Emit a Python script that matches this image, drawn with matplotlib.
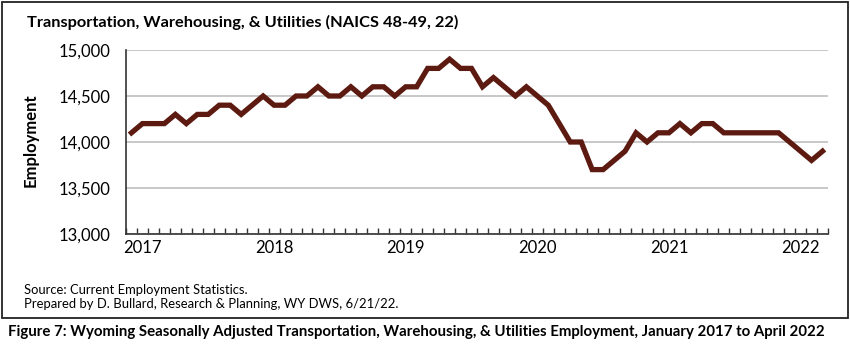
import matplotlib
matplotlib.use('Agg')
import matplotlib.pyplot as plt
from matplotlib.patches import Rectangle

# monthly employment, Jan 2017 - Apr 2022
employment = [
    14100, 14200, 14200, 14200, 14300, 14200, 14300, 14300, 14400, 14400, 14300, 14400,  # 2017
    14500, 14400, 14400, 14500, 14500, 14600, 14500, 14500, 14600, 14500, 14600, 14600,  # 2018
    14500, 14600, 14600, 14800, 14800, 14900, 14800, 14800, 14600, 14700, 14600, 14500,  # 2019
    14600, 14500, 14400, 14200, 14000, 14000, 13700, 13700, 13800, 13900, 14100, 14000,  # 2020
    14100, 14100, 14200, 14100, 14200, 14200, 14100, 14100, 14100, 14100, 14100, 14100,  # 2021
    14000, 13900, 13800, 13900,  # 2022
]
years = ['2017', '2018', '2019', '2020', '2021', '2022']
y_ticks = [13000, 13500, 14000, 14500, 15000]

plt.rcParams['font.family'] = ['Lato', 'DejaVu Sans']

fig = plt.figure(figsize=(8.5, 3.48), dpi=100)
ax = fig.add_axes([126 / 850, 1 - 234 / 348, 702 / 850, 184 / 348])

months = list(range(len(employment)))
ax.plot(months, employment, color='#5c1a10', linewidth=3.8, solid_joinstyle='miter', zorder=3)

ax.set_xlim(-0.5, len(employment) - 0.5)
ax.set_ylim(13000, 15000)
ax.set_yticks(y_ticks)
ax.set_yticklabels(['{:,}'.format(v) for v in y_ticks], fontsize=12)
ax.yaxis.grid(True, color='#bfbfbf', linewidth=1.2)
ax.set_axisbelow(True)
ax.tick_params(axis='y', length=0, pad=11)

# category tick marks between months, year labels
ax.set_xticks([m - 0.5 for m in range(len(employment) + 1)])
ax.set_xticklabels([])
ax.set_xticks([1 + 12 * i for i in range(len(years))], minor=True)
ax.set_xticklabels(years, minor=True, fontsize=12)
ax.tick_params(axis='x', which='major', direction='in', length=4, width=1, color='#333333')
ax.tick_params(axis='x', which='minor', length=0, pad=4)

for s in ['top', 'right']:
    ax.spines[s].set_visible(False)
ax.spines['left'].set_color('#333333')
ax.spines['bottom'].set_color('#333333')
ax.spines['left'].set_linewidth(1.2)
ax.spines['bottom'].set_linewidth(1.2)

fig.text(31 / 850, 1 - 140 / 348, 'Employment', rotation=90,
         fontsize=12, fontweight='bold', va='center', ha='center')

title = fig.text(27 / 850, 1 - 22 / 348, 'Transportation, Warehousing, & Utilities (NAICS 48-49, 22)',
                 fontsize=12, fontweight='bold', va='center', ha='left')
src1 = fig.text(24 / 850, 1 - 290 / 348, 'Source: Current Employment Statistics.',
                fontsize=11, va='center', ha='left')
src2 = fig.text(24 / 850, 1 - 304 / 348, 'Prepared by D. Bullard, Research & Planning, WY DWS, 6/21/22.',
                fontsize=11, va='center', ha='left')
caption = fig.text(416 / 850, 1 - 332 / 348,
                   'Figure 7: Wyoming Seasonally Adjusted Transportation, Warehousing, & Utilities Employment, January 2017 to April 2022',
                   fontsize=11, fontweight='bold', va='center', ha='center')

# fit text widths (px) to the reference
renderer = fig.canvas.get_renderer()
for t, w in [(title, 428), (src2, 374), (caption, 818)]:
    cur = t.get_window_extent(renderer).width
    t.set_fontsize(t.get_fontsize() * w / cur)
src1.set_fontsize(src2.get_fontsize())

fig.patches.append(Rectangle((1.5 / 850, 1 - 318 / 348), 846 / 850, 316 / 348,
                             transform=fig.transFigure, fill=False,
                             edgecolor='#222222', linewidth=1.3))

fig.savefig('out.png', dpi=100)
